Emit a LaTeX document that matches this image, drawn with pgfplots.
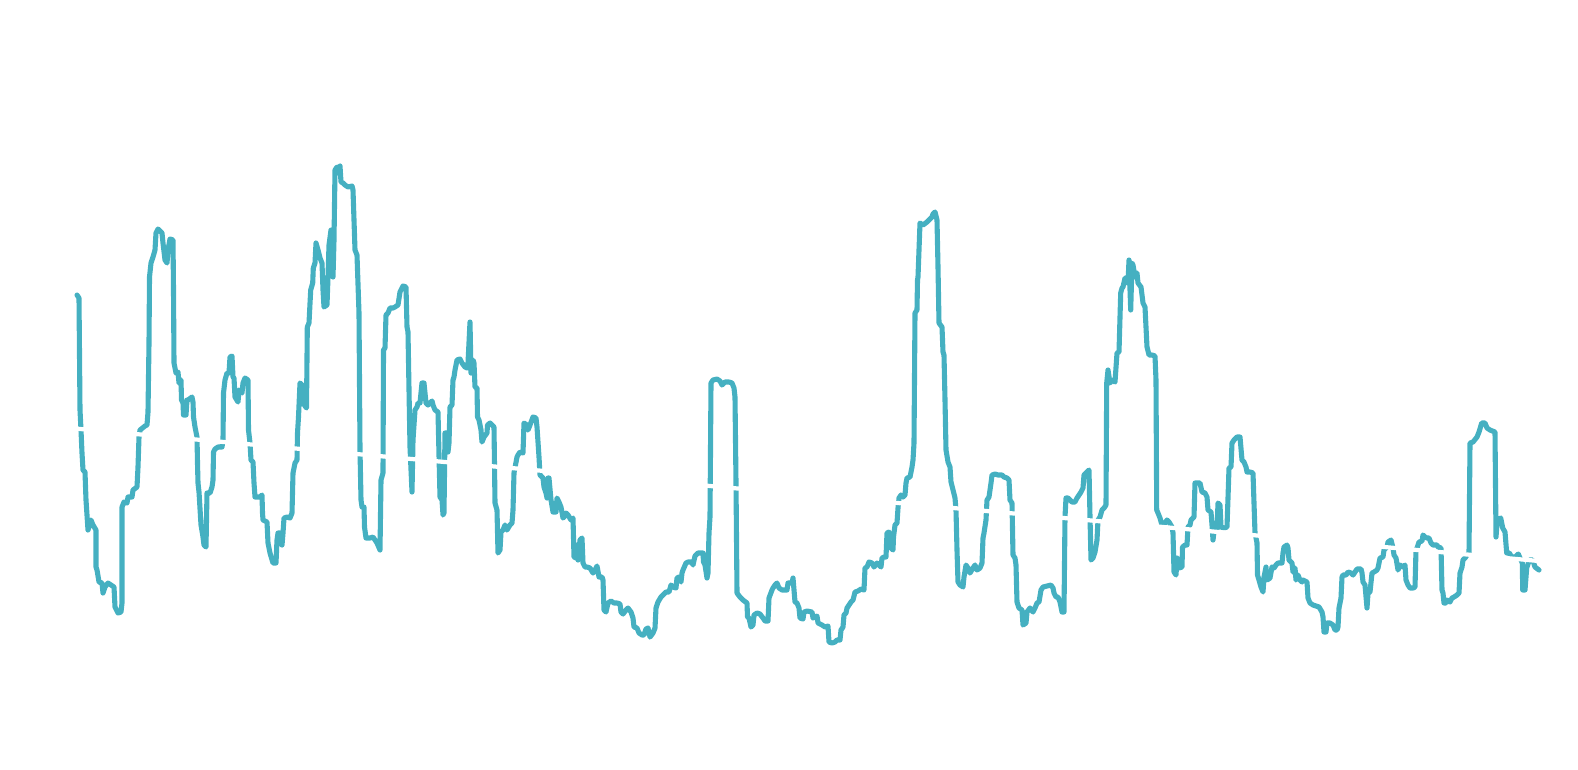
\documentclass[border=0pt]{standalone}
\usepackage{pgfplots}
\pgfplotsset{compat=1.18}
\definecolor{teal1}{RGB}{69,176,193}
\begin{document}
\begin{tikzpicture}
\begin{axis}[
  width=15.78cm, height=7.69cm, scale only axis,
  xmin=0, xmax=1578, ymin=0, ymax=769, y dir=reverse,
  hide axis, clip=false,
]
\addplot[teal1, line width=1.45pt, line join=round, line cap=round, mark=none] coordinates {
(77,295)(79,298)(80,410)(81,430)(82,453)(83,470)(85,472)(86,500)(88,530)(91,520)(93,525)(96,530)(96,567)(97,570)(99,582)(102,583)(103,593)(105,587)(108,583)(114,587)(115,607)(118,613)(121,612)(122,603)(122,507)(124,502)(127,503)(128,497)(132,497)(133,490)(137,487)(138,467)(139,437)(140,430)(145,426)(147,425)(148,412)(149,343)(149.5,277)(151,263)(153,257)(155,250)(156,233)(158,229)(162,233)(163,243)(165,260)(167,263)(168,250)(170,239)(173,240)(173.5,290)(174,363)(176,373)(178,372)(179,383)(181,380)(181.5,400)(183,403)(183.5,415)(186,415)(187,400)(188,400)(192,397)(193,402)(193.5,417)(195,427)(197,437)(197.5,463)(198,483)(199,492)(201,525)(203,537)(204,545)(206,547)(207,493)(210,493)(212,487)(213,480)(213.5,452)(215,449)(218,447)(222,447)(223,440)(223.5,393)(225,380)(227,373)(229,373)(230,357)(232,356)(233,377)(234,378)(235,397)(238,402)(239,390)(242,393)(243,383)(245,378)(248,380)(248.5,430)(250,443)(251,460)(253,462)(254,483)(255,497)(260,497)(262,495)(262.5,513)(263,520)(267,522)(268,543)(270,553)(273,563)(276,563)(277,540)(278,533)(280,533)(282,545)(283,533)(284,518)(287,517)(290,518)(292,513)(293,473)(295,463)(297,460)(297.5,433)(298.5,417)(300,383)
(302,385)(303,403)(306.5,408)(307.3,327)(309,323)(310.7,290)(312.7,283)(313.3,268)(315,263)(316,243)(318,250)(320,258)(322,263)(323,290)(324,307)(327,305)(328,277)(329,245)(331,230)(333,277)(334,240)(335,170)(337,167)(338,173)(340,166)(341,182)(343,183)(345,185)(348,187)(352,186)(353,190)(355,250)(357,255)(359,313)(360,450)(361,500)(362,507)(364,507)(364.5,527)(366,538)(370,538)(373,537)(375,540)(377,543)(380,550)(381,480)(383,473)(383.5,350)(385,348)(386,315)(388,313)(390,308)(393,308)(395,307)(398,305)(400,292)(403,286)(406,287)(407,327)(408,332)(410,447)(412,492)(413,440)(415,410)(417,407)(418,403)(420,403)(422,383)(424,383)(426,403)(428,405)(432,401)(433,405)(435,410)(438,412)(439,455)(440,497)(442,500)(443,515)(444,513)(445,433)(447,433)(448,452)(449,443)(450,407)(452,405)(453,380)(454,377)(455,370)(457,360)(460,359)(462,363)(465,367)(467,368)(468,363)(470,322)(471,373)(473,360)(474,363)(475,387)(477,388)(477.5,417)(479,420)(481,430)(482,442)(484,437)(487,433)(487.5,425)(490,423)(493,426)(494,427)(495,503)(497,510)(498,553)(500,550)(501,532)(503,530)(505,525)(507,530)(510,525)(512,523)(513,510)(514,473)(517,457)(518,455)(520,452)(523,453)(524,423)(527,425)(528,430)(530,425)(533,417)(536,418)(537,427)(539,457)(540,475)
(542,477)(543,478)(544,487)(546,493)(547,498)(548,478)(549,478)(551,500)(553,512)(556,512)(557,498)(559,502)(561,507)(563,518)(564,517)(566,513)(568,515)(571,520)(573,518)(574,557)(576,558)(577,545)(578,560)(580,540)(582,538)(583,563)(585,567)(587,567)(590,568)(593,573)(595,570)(597,566)(599,577)(602,577)(603,580)(604,610)(606,612)(608,603)(611,601)(614,603)(617,603)(620,604)(621,612)(623,614)(626,610)(628,608)(631,612)(633,618)(634,627)(637,628)(639,633)(642,635)(644,635)(646,629)(648,628)(650,637)(653,633)(655,628)(656,608)(658,602)(661,597)(663,595)(666,592)(669,592)(671,585)(673,587)(676,588)(677,578)(679,577)(681,582)(682,573)(683,570)(686,563)(688,562)(692,562)(693,565)(695,556)(698,553)(703,553)(703.5,562)(705,565)(707,578)(708,573)(709,533)(710,517)(711,383)(713,380)(717,379)(720,381)(722,385)(725,382)(729,382)(732,383)(734,388)(735,397)(736,483)(737,593)(740,597)(743,600)(747,603)(747.5,617)(749,618)(751,627)(753,625)(754,615)(757,613)(760,614)(763,618)(765,621)(768,621)(769,598)(772,590)(773,588)(775,585)(777,583)(779,588)
(782,590)(787,590)(788,583)(792,583)(793,578)(795,602)(797,603)(799,608)(800,618)(803,619)(804,612)(807,611)(812,612)(813,618)(815,617)(817,616)(818,623)(822,625)(825,627)(828,626)(829,642)(832,643)(835,642)(837,640)(840,640)(841,630)(843,627)(844,615)(846,613)(847,608)(849,605)(851,602)(853,600)(855,592)(858,591)(861,589)(864,590)(865,568)(867,567)(869,562)(872,563)(874,567)(877,563)(879,565)(881,567)(882,558)(884,557)(886,557)(887,533)(889,532)(891,548)(893,550)(893.5,537)(895,525)(897,523)(898,508)(899,498)(901,495)(903,497)(905,495)(906,483)(907,478)(910,477)(912,467)(913,460)(914,443)(915,313)(917,310)(917.5,280)(918,277)(919,250)(920,223)(923,225)(927,222)(929,220)(932,217)(933,214)(935,212)(937,220)(938,267)(939,323)(942,327)(943,352)(944,355)(945,400)(946,450)(948,462)(950,467)(951,482)(953,490)(955,498)(956,510)(957,550)(958,582)(960,585)(963,587)(964,577)(966,565)(968,568)(970,573)(973,568)(975,565)(977,570)(980,568)(982,563)(983,538)(984,533)(986,520)(987,500)(989,497)(991,483)(992,475)(995,474)(998,475)(1002,475)(1004,477)(1007,478)(1009,480)(1010,500)(1012,503)(1013,555)(1015,558)(1016,565)(1017,602)(1019,608)
(1022,610)(1023,625)(1026,623)(1027,612)(1030,608)(1033,612)(1035,608)(1037,603)(1039,602)(1041,590)(1043,587)(1047,586)(1051,585)(1053,588)(1054,593)(1056,597)(1058,597)(1060,602)(1062,612)(1064,612)(1065,517)(1066,498)(1068,498)(1072,502)(1075,502)(1077,498)(1079,495)(1081,492)(1083,488)(1084,475)(1087,472)(1089,470)(1090,517)(1091,560)(1093,558)(1095,552)(1097,540)(1098,520)(1100,517)(1102,510)(1104,508)(1106,505)(1106.7,383)(1108,370)(1110,383)(1112,380)(1115,382)(1117,353)(1119,352)(1120.7,293)(1122,288)(1123,287)(1125,278)(1127,278)(1128,283)(1129,260)(1130.7,310)(1132,263)(1133,265)(1135,277)(1137,273)(1138,283)(1141,287)(1143,303)(1145,307)(1147,347)(1149,355)(1152,355)(1155,356)(1156,380)(1156.7,510)(1158,513)(1160,518)(1162,525)(1165,523)(1167,520)(1169,522)(1172,527)(1173,533)(1174,572)(1176,575)(1177,558)(1179,568)(1182,567)(1182.5,547)(1185,545)(1187,545)(1188,527)(1190,525)(1191,520)(1194,517)(1195,483)(1200,483)(1202,492)(1205,493)(1207,497)(1208,510)(1211,512)(1212,525)(1213,540)(1215,523)(1217,530)(1218,503)(1220,505)(1221,527)(1224,528)(1227,527)(1228,498)(1229,468)(1231,467)(1232,443)(1234,440)(1237,437)(1240,437)(1242,460)(1244,462)(1246,467)(1247,472)(1250,472)(1253,473)(1255,533)(1257,543)(1257.5,575)(1259,580)(1261,587)(1263,592)(1264,577)(1266,567)(1267,580)(1270,578)
(1272,567)(1274,568)(1276,565)(1278,563)(1282,563)(1283,553)(1284,547)(1287,545)(1288,548)(1289,560)(1292,563)(1293,572)(1295,568)(1296,580)(1298,575)(1300,580)(1302,582)(1303,580)(1307,582)(1308,598)(1310,603)(1313,605)(1316,606)(1319,607)(1322,612)(1323,617)(1324,632)(1326,632)(1327,623)(1330,623)(1333,625)(1335,630)(1337,630)(1338,627)(1339,608)(1341,598)(1342,577)(1343,575)(1346,575)(1348,572)(1351,573)(1353,575)(1355,572)(1357,569)(1361,569)(1362,573)(1363,582)(1365,585)(1367,608)(1368,593)(1370,592)(1372,573)(1374,572)(1377,570)(1378,568)(1380,558)(1383,557)(1384,550)(1387,547)(1388,542)(1391,540)(1393,548)(1394,555)(1396,558)(1398,570)(1400,565)(1403,567)(1405,565)(1406,580)(1408,585)(1410,588)(1413,588)(1415,587)(1416,550)(1417,548)(1419,542)(1422,541)(1423,535)(1425,537)(1427,538)(1429,538)(1431,543)(1433,545)(1437,545)(1438,547)(1441,548)(1442,590)(1443,593)(1444,603)(1446,603)(1447,600)(1450,602)(1452,598)(1454,597)(1457,595)(1459,593)(1460,573)(1462,567)(1463,560)(1465,558)(1467,555)(1469,553)(1470,443)(1473,442)(1477,437)(1479,432)(1481.7,423)(1485,423)(1487,428)(1490,430)(1495,432)(1496,537)(1497.3,520)(1500.7,518)(1502.7,528)(1505,532)(1506.7,553)(1509.3,553)(1511.7,557)(1515,557)(1518.3,554)(1520,558)(1522.3,563)(1522.7,590)(1525,590)(1526.7,568)(1529.3,560)(1532.7,560)(1535,567)(1539,570)
};
\addplot[white, line width=1.2pt, mark=none] coordinates {(77,428.7) (1539,561)};
\end{axis}
\pgfresetboundingbox
\path (current axis.south west) rectangle (current axis.north east);
\end{tikzpicture}
\end{document}
